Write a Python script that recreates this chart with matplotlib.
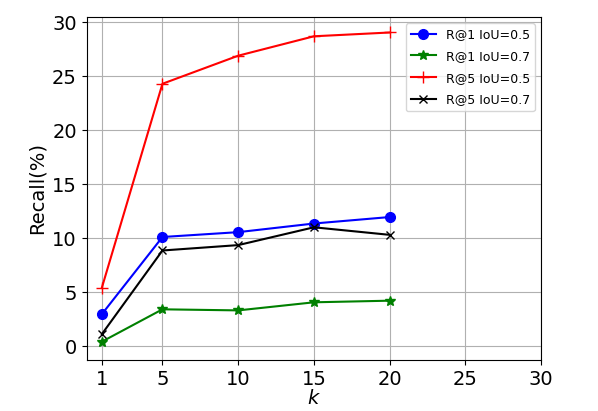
import matplotlib
matplotlib.use('Agg')
import matplotlib.pyplot as plt

# values
k = [1, 5, 10, 15, 20]
r1_05 = [2.95, 10.1, 10.55, 11.35, 11.95]
r1_07 = [0.4, 3.4, 3.3, 4.05, 4.2]
r5_05 = [5.4, 24.3, 26.9, 28.7, 29.05]
r5_07 = [1.1, 8.85, 9.35, 11.0, 10.3]
xticks = [1, 5, 10, 15, 20, 25, 30]

fig = plt.figure(figsize=(5.98, 4.11), dpi=100)
ax = fig.add_axes([0.145, 0.124, 0.76, 0.835])

ax.plot(k, r1_05, color='blue', marker='o', markersize=7, label='R@1 IoU=0.5')
ax.plot(k, r1_07, color='green', marker='*', markersize=7, label='R@1 IoU=0.7')
ax.plot(k, r5_05, color='red', marker='+', markersize=8, label='R@5 IoU=0.5')
ax.plot(k, r5_07, color='black', marker='x', markersize=6, label='R@5 IoU=0.7')

ax.set_xlim(0, 30)
ax.set_ylim(-1.3, 30.5)
ax.set_xticks(xticks)
ax.tick_params(labelsize=14)
ax.set_xlabel('$k$', fontsize=14, labelpad=0)
ax.set_ylabel('Recall(%)', fontsize=14)
ax.grid(True)
ax.legend(loc='upper right', fontsize=9, labelspacing=0.7)

plt.savefig('out.png', dpi=100)
